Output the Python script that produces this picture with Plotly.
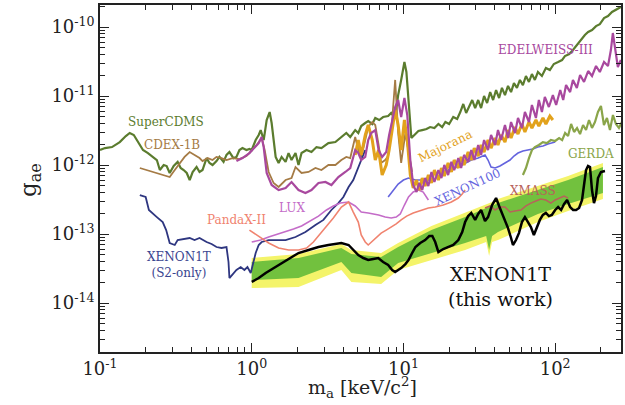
import plotly.graph_objects as go

# ---------------- data (mass in keV, g_ae) ----------------
SUPERCDMS = [(0.100,1.65e-12),(0.108,1.76e-12),(0.120,1.82e-12),(0.135,2.15e-12),(0.148,2.63e-12),(0.157,2.91e-12),(0.167,2.72e-12),(0.178,2.15e-12),(0.192,1.65e-12),(0.207,1.49e-12),(0.223,1.31e-12),(0.237,1.18e-12),(0.248,8.46e-13),(0.263,1.0e-12),(0.275,9.67e-13),(0.288,7.66e-13),(0.306,9.67e-13),(0.325,1.11e-12),(0.340,9.05e-13),(0.356,8.46e-13),(0.373,7.66e-13),(0.390,6.06e-13),(0.408,7.92e-13),(0.433,9.35e-13),(0.453,7.92e-13),(0.474,8.46e-13),(0.504,1.26e-12),(0.527,1.07e-12),(0.552,1.0e-12),(0.586,1.14e-12),(0.613,1.31e-12),(0.652,1.11e-12),(0.682,1.40e-12),(0.713,1.54e-12),(0.758,1.26e-12),(0.793,1.31e-12),(0.830,1.65e-12),(0.869,1.76e-12),(0.923,1.65e-12),(0.966,1.71e-12),(1.00,1.65e-12),(1.062,2.30e-12),(1.112,2.72e-12),(1.146,3.21e-12),(1.199,2.30e-12),(1.255,4.49e-12),(1.313,5.86e-12),(1.353,4.06e-12),(1.438,1.31e-12),(1.504,1.07e-12),(1.574,1.31e-12),(1.672,1.11e-12),(1.749,1.49e-12),(1.830,1.18e-12),(1.944,1.49e-12),(2.034,1.0e-12),(2.13,1.49e-12),(2.297,1.65e-12),(2.477,1.54e-12),(2.672,1.82e-12),(2.881,1.76e-12),(3.202,2.08e-12),(3.56,2.15e-12),(3.897,2.55e-12),(4.203,2.91e-12),(4.46,2.55e-12),(4.81,3.21e-12),(5.04,2.91e-12),(5.27,3.67e-12),(5.60,4.06e-12),(5.86,4.34e-12),(6.23,3.93e-12),(6.52,4.80e-12),(6.92,4.49e-12),(7.35,4.96e-12),(7.93,5.13e-12),(8.30,5.67e-12),(8.82,4.80e-12),(9.23,1.03e-11),(9.66,1.71e-11),(10.15,3.11e-11),(10.46,2.23e-11),(10.79,8.75e-12),(11.28,2.46e-12),(11.99,2.81e-12),(12.55,3.11e-12),(13.3,3.21e-12),(14.2,3.32e-12),(15.0,3.55e-12),(16.0,3.44e-12),(17.0,3.93e-12),(18.0,3.55e-12),(18.9,4.20e-12),(20.0,3.93e-12),(21.3,4.96e-12),(22.6,4.64e-12),(23.7,5.86e-12),(24.8,7.66e-12),(25.9,5.67e-12),(27.1,7.16e-12),(28.4,8.75e-12),(29.7,6.70e-12),(31.1,8.75e-12),(32.5,6.70e-12),(34.0,1.0e-11),(35.6,7.92e-12),(37.3,1.14e-11),(39.0,8.75e-12),(40.8,1.22e-11),(42.7,9.35e-12),(44.6,1.31e-11),(46.7,1.03e-11),(48.9,1.40e-11),(51.2,1.14e-11),(53.5,1.54e-11),(56.0,1.31e-11),(58.6,1.71e-11),(61.3,1.44e-11),(64.2,1.95e-11),(67.2,1.60e-11),(70.3,2.08e-11),(73.5,1.71e-11),(77.0,2.23e-11),(81.8,1.95e-11),(86.9,2.55e-11),(92.3,2.38e-11),(98.0,2.91e-11),(104.6,3.11e-11),(111,3.32e-11),(116,3.80e-11),(124,4.06e-11),(131,4.64e-11),(139,5.48e-11),(148,6.48e-11),(157,7.66e-11),(165,8.46e-11),(175,9.05e-11),(186,1.03e-10),(197,1.10e-10),(210,1.35e-10),(223,1.44e-10),(237,1.65e-10),(252,1.76e-10),(271,1.95e-10)]

CDEX_1B = [(0.183,9.05e-13),(0.213,8.18e-13),(0.248,7.40e-13),(0.288,6.70e-13),(0.311,8.46e-13),(0.335,1.07e-12),(0.361,1.31e-12),(0.390,1.54e-12),(0.420,1.40e-12),(0.453,1.26e-12),(0.474,1.14e-12),(0.512,1.26e-12),(0.552,1.18e-12),(0.586,1.31e-12),(0.632,1.26e-12),(0.682,1.18e-12),(0.747,1.26e-12),(0.830,1.22e-12),(0.923,1.35e-12),(1.0,1.65e-12),(1.079,1.95e-12),(1.163,2.46e-12),(1.217,1.65e-12),(1.293,7.92e-13),(1.394,5.48e-13),(1.504,4.80e-13),(1.672,6.06e-13),(1.830,6.48e-13),(1.944,9.35e-13),(2.13,7.66e-13),(2.368,7.92e-13),(2.63,9.05e-13),(2.881,8.46e-13),(3.202,1.0e-12),(3.56,1.0e-12),(3.897,1.18e-12),(4.203,1.31e-12),(4.46,1.26e-12),(4.81,2.55e-12),(5.04,1.65e-12),(5.27,1.31e-12),(5.60,2.30e-12),(5.86,3.55e-12),(6.23,4.20e-12),(6.52,3.80e-12),(6.86,1.95e-12),(7.13,1.07e-12),(7.58,1.18e-12),(7.93,1.35e-12),(8.43,4.49e-12),(8.82,1.71e-11),(9.23,2.91e-12),(9.66,1.07e-12),(10.3,2.91e-12),(10.8,1.65e-12),(11.4,7.92e-13)]

EDELWEISS_III = [(0.793,1.14e-12),(0.869,1.26e-12),(0.966,1.49e-12),(1.031,1.76e-12),(1.112,2.08e-12),(1.163,2.55e-12),(1.199,1.82e-12),(1.255,7.66e-13),(1.353,5.13e-13),(1.504,4.34e-13),(1.672,4.64e-13),(1.830,5.67e-13),(2.034,4.34e-13),(2.26,3.93e-13),(2.477,4.34e-13),(2.754,5.48e-13),(3.06,5.67e-13),(3.351,5.13e-13),(3.725,6.70e-13),(4.14,7.92e-13),(4.46,9.05e-13),(4.81,1.65e-12),(5.04,1.49e-12),(5.27,1.18e-12),(5.60,1.31e-12),(5.86,2.30e-12),(6.13,2.91e-12),(6.52,3.21e-12),(6.86,1.65e-12),(7.24,1.31e-12),(7.70,1.54e-12),(8.05,2.72e-12),(8.43,4.49e-12),(8.82,6.93e-12),(9.23,8.75e-12),(9.66,4.96e-12),(10.15,9.35e-12),(10.6,5.30e-12),(11.1,1.18e-12),(11.6,5.13e-13),(12.2,4.06e-13),(12.7,5.48e-13),(13.3,4.34e-13),(13.9,6.48e-13),(14.6,4.96e-13),(15.3,7.92e-13),(16.0,5.67e-13),(17.0,8.46e-13),(17.8,6.48e-13),(18.6,1.0e-12),(19.7,7.16e-13),(20.7,1.11e-12),(21.6,8.46e-13),(23.0,1.26e-12),(24.0,9.05e-13),(25.1,1.40e-12),(26.7,1.11e-12),(28.0,1.65e-12),(29.3,1.18e-12),(31.1,1.95e-12),(32.5,1.40e-12),(34.0,2.30e-12),(36.1,1.65e-12),(37.8,2.72e-12),(40.2,1.95e-12),(42.0,3.21e-12),(44.0,2.30e-12),(46.7,3.80e-12),(48.9,2.46e-12),(51.2,4.20e-12),(54.4,2.91e-12),(56.9,4.80e-12),(60.4,3.44e-12),(63.2,5.86e-12),(67.2,4.20e-12),(70.3,7.40e-12),(74.7,4.80e-12),(78.1,8.75e-12),(81.8,5.86e-12),(85.5,9.67e-12),(90.9,6.93e-12),(96.6,1.03e-11),(101.5,7.40e-12),(108,1.22e-11),(113,8.75e-12),(118,1.44e-11),(125.5,1.14e-11),(131,1.71e-11),(139,1.31e-11),(146,2.02e-11),(155,1.60e-11),(165,2.30e-11),(175,1.95e-11),(186,2.72e-11),(197,2.23e-11),(210,3.11e-11),(223,2.72e-11),(233,4.64e-11),(240,8.18e-11),(248,4.64e-11),(259,2.63e-11),(271,3.32e-11)]

MAJORANA = [(4.81,1.40e-12),(5.04,2.30e-12),(5.27,1.40e-12),(5.60,2.72e-12),(5.86,3.80e-12),(6.23,2.30e-12),(6.52,1.18e-12),(6.86,1.65e-12),(7.24,7.16e-13),(7.70,1.0e-12),(8.05,1.65e-12),(8.43,3.21e-12),(8.82,6.27e-12),(9.23,3.80e-12),(9.66,1.65e-12),(10.15,4.49e-12),(10.6,2.30e-12),(11.1,7.16e-13),(11.6,4.64e-13),(12.2,6.06e-13),(12.7,4.34e-13),(13.3,6.48e-13),(13.9,4.96e-13),(14.6,7.16e-13),(15.3,5.48e-13),(16.0,8.46e-13),(17.0,6.06e-13),(17.8,9.05e-13),(18.6,6.93e-13),(19.7,1.07e-12),(20.7,7.92e-13),(21.6,1.18e-12),(23.0,9.05e-13),(24.0,1.31e-12),(25.1,1.0e-12),(26.7,1.54e-12),(28.0,1.18e-12),(29.3,1.76e-12),(31.1,1.35e-12),(32.5,1.95e-12),(34.0,1.54e-12),(36.1,2.30e-12),(37.8,1.76e-12),(40.2,2.46e-12),(42.0,1.95e-12),(44.0,2.72e-12),(46.7,2.15e-12),(48.9,3.21e-12),(51.2,2.46e-12),(54.4,3.55e-12),(56.9,2.81e-12),(60.4,3.93e-12),(63.2,3.01e-12),(67.2,4.20e-12),(70.3,3.44e-12),(74.7,4.49e-12),(78.1,3.67e-12),(83.1,4.80e-12),(86.9,3.93e-12),(92.3,5.13e-12),(96.6,4.49e-12)]

XENON100 = [(7.93,3.44e-13),(8.56,4.34e-13),(9.23,5.30e-13),(10.0,6.06e-13),(10.8,6.48e-13),(12.0,6.06e-13),(13.1,6.06e-13),(14.2,5.67e-13),(15.3,6.93e-13),(16.2,7.66e-13),(17.8,7.92e-13),(19.7,8.46e-13),(21.3,9.05e-13),(23.0,9.35e-13),(25.5,1.07e-12),(28.0,1.18e-12),(31.1,1.26e-12),(34.5,1.40e-12),(36.1,1.18e-12),(37.8,9.35e-13),(40.2,9.05e-13),(43.3,9.67e-13),(46.7,1.07e-12),(50.4,1.18e-12),(53.5,1.35e-12),(56.9,1.49e-12),(61.3,1.60e-12),(66.0,1.65e-12),(71.2,1.71e-12),(77.0,1.82e-12),(83.1,1.89e-12),(89.7,2.02e-12),(100,2.15e-12)]

LUX = [(1.0,7.66e-14),(1.146,8.18e-14),(1.293,9.05e-14),(1.504,1.0e-13),(1.672,1.07e-13),(1.886,1.18e-13),(2.13,1.31e-13),(2.44,1.54e-13),(2.754,1.82e-13),(3.11,2.23e-13),(3.45,2.55e-13),(3.84,2.81e-13),(4.35,2.91e-13),(4.81,2.55e-13),(5.27,2.08e-13),(5.86,2.02e-13),(6.86,1.89e-13),(7.58,1.76e-13),(8.30,1.71e-13),(8.96,1.76e-13),(9.53,1.95e-13),(10.15,2.63e-13),(10.8,3.44e-13),(11.6,4.06e-13),(12.55,4.34e-13),(13.5,4.06e-13),(14.6,3.11e-13)]

PANDAX_II = [(0.966,1.14e-13),(1.062,1.0e-13),(1.163,8.75e-14),(1.293,7.40e-14),(1.504,6.27e-14),(1.75,5.86e-14),(2.034,5.86e-14),(2.30,6.27e-14),(2.55,7.66e-14),(2.97,1.14e-13),(3.45,1.71e-13),(3.90,2.46e-13),(4.35,2.91e-13),(4.67,2.08e-13),(5.04,1.49e-13),(5.27,9.67e-14),(5.60,7.66e-14),(5.86,6.93e-14),(6.23,7.92e-14),(6.62,9.05e-14),(7.13,1.03e-13),(7.70,1.14e-13),(8.30,1.26e-13),(8.96,1.40e-13),(9.66,1.60e-13),(10.5,1.82e-13),(11.6,2.02e-13),(13.1,2.23e-13),(14.6,2.38e-13),(16.2,2.46e-13),(18.3,2.63e-13),(20.7,2.91e-13),(23.0,3.32e-13),(24.4,3.80e-13),(25.5,4.34e-13)]

XENON1T_S2 = [(0.183,3.67e-13),(0.200,3.44e-13),(0.210,2.23e-13),(0.223,1.95e-13),(0.237,1.76e-13),(0.259,1.49e-13),(0.273,1.14e-13),(0.288,7.40e-14),(0.311,6.93e-14),(0.325,8.18e-14),(0.361,8.46e-14),(0.390,8.75e-14),(0.420,8.18e-14),(0.453,8.75e-14),(0.504,7.66e-14),(0.544,7.16e-14),(0.586,6.48e-14),(0.632,6.27e-14),(0.682,6.48e-14),(0.703,3.93e-14),(0.713,2.30e-14),(0.747,2.55e-14),(0.793,3.01e-14),(0.846,3.32e-14),(0.895,3.01e-14),(0.937,3.32e-14),(0.985,2.72e-14),(1.015,3.55e-14),(1.062,5.30e-14),(1.112,6.93e-14),(1.163,7.66e-14),(1.293,8.18e-14),(1.504,8.18e-14),(1.672,8.18e-14),(1.944,9.05e-14),(2.26,1.07e-13),(2.63,1.35e-13),(2.97,1.60e-13),(3.35,2.23e-13),(3.725,2.81e-13),(4.02,3.44e-13),(4.35,4.80e-13),(4.67,6.06e-13),(5.04,9.35e-13),(5.36,1.26e-12),(5.60,1.65e-12)]

XENON1T_THIS_WORK = [(1.0,2.02e-14),(1.112,2.30e-14),(1.236,2.72e-14),(1.394,3.21e-14),(1.574,3.80e-14),(1.806,4.49e-14),(2.034,5.30e-14),(2.37,5.86e-14),(2.754,6.48e-14),(3.202,6.93e-14),(3.897,7.40e-14),(4.35,6.93e-14),(4.67,5.86e-14),(5.04,4.96e-14),(5.44,4.49e-14),(5.86,4.20e-14),(6.33,4.34e-14),(6.82,4.49e-14),(7.35,3.93e-14),(7.93,3.55e-14),(8.43,3.01e-14),(8.82,2.81e-14),(9.23,3.01e-14),(9.66,3.21e-14),(10.3,3.67e-14),(10.8,4.20e-14),(11.5,5.48e-14),(12.0,6.48e-14),(12.9,7.40e-14),(13.9,8.18e-14),(14.8,9.35e-14),(15.5,9.35e-14),(16.2,7.66e-14),(17.0,5.48e-14),(18.3,6.06e-14),(19.7,6.48e-14),(21.3,6.93e-14),(23.0,8.18e-14),(24.4,1.07e-13),(25.5,1.49e-13),(26.7,1.82e-13),(28.0,2.02e-13),(29.7,1.60e-13),(31.1,1.95e-13),(32.5,2.23e-13),(34.5,1.54e-13),(36.1,1.76e-13),(38.4,2.63e-13),(40.8,3.32e-13),(42.7,2.55e-13),(44.6,2.02e-13),(46.7,1.60e-13),(48.9,1.22e-13),(51.2,8.75e-14),(52.7,6.93e-14),(55.2,8.18e-14),(57.7,1.03e-13),(60.4,1.49e-13),(63.2,1.76e-13),(66.2,1.49e-13),(69.2,1.26e-13),(72.4,9.67e-14),(75.8,1.26e-13),(79.3,1.60e-13),(83.0,1.89e-13),(86.9,2.02e-13),(90.9,1.82e-13),(95.1,1.89e-13),(100,2.23e-13),(104.6,2.46e-13),(109.5,2.23e-13),(114.6,2.72e-13),(119.9,3.11e-13),(125.5,2.46e-13),(131.3,2.23e-13),(137.4,2.23e-13),(143.8,2.38e-13),(150.4,3.11e-13),(155,5.13e-13),(159.8,8.46e-13),(164.7,9.67e-13),(169.7,9.35e-13),(174.9,4.34e-13),(180.3,2.81e-13),(185.8,3.55e-13),(191.5,6.48e-13),(200.4,7.92e-13),(213,8.18e-13)]

BAND_M    = [1.0, 2.034, 3.897, 4.54, 7.13, 9.23, 15.3, 25.5, 35.1, 36.7, 38.4, 42.0, 77.0, 121.7, 206.5]
GREEN_HI  = [3.93e-14, 4.49e-14, 6.27e-14, 5.13e-14, 4.64e-14, 6.48e-14, 1.14e-13, 1.76e-13, 2.38e-13, 2.46e-13, 2.55e-13, 2.81e-13, 4.34e-13, 6.06e-13, 9.35e-13]
GREEN_LO  = [2.15e-14, 2.30e-14, 3.93e-14, 2.72e-14, 2.38e-14, 3.80e-14, 5.30e-14, 7.40e-14, 9.35e-14, 5.86e-14, 9.35e-14, 1.07e-13, 1.95e-13, 2.72e-13, 3.93e-13]
YELLOW_HI = [4.49e-14, 5.13e-14, 7.16e-14, 5.86e-14, 5.30e-14, 7.40e-14, 1.31e-13, 2.02e-13, 2.72e-13, 2.81e-13, 2.91e-13, 3.21e-13, 4.96e-13, 6.93e-13, 1.07e-12]
YELLOW_LO = [1.65e-14, 1.71e-14, 3.01e-14, 2.02e-14, 1.89e-14, 3.01e-14, 4.20e-14, 5.86e-14, 7.66e-14, 4.80e-14, 7.66e-14, 8.18e-14, 1.49e-13, 2.15e-13, 3.21e-13]

GERDA = [(61.3,7.16e-13),(64.2,9.05e-13),(67.2,1.26e-12),(70.3,1.65e-12),(73.5,1.82e-12),(78.1,1.95e-12),(83.0,2.15e-12),(88.2,2.08e-12),(93.7,2.30e-12),(100,2.23e-12),(106.2,2.46e-12),(111.2,2.30e-12),(116.3,2.91e-12),(121.7,2.63e-12),(127.4,3.93e-12),(133.3,3.01e-12),(139.4,3.44e-12),(145.9,2.81e-12),(152.7,3.80e-12),(159.8,3.21e-12),(167.2,4.49e-12),(174.9,3.44e-12),(183.0,4.20e-12),(191.5,5.86e-12),(200.4,7.16e-12),(209.7,3.80e-12),(219.5,4.80e-12),(229.7,3.21e-12),(240.4,5.30e-12),(251.6,3.93e-12),(263.3,3.44e-12),(275.4,4.20e-12)]

XMASS = [(34.5,2.38e-13),(37.3,2.55e-13),(40.2,2.23e-13),(43.3,2.46e-13),(46.7,2.46e-13),(50.4,2.08e-13),(54.4,2.15e-13),(59.5,2.23e-13),(64.2,2.55e-13),(69.2,2.81e-13),(74.7,3.01e-13),(80.5,3.21e-13),(86.9,3.11e-13),(93.7,2.81e-13),(100,3.11e-13),(106.2,3.32e-13),(114.6,3.55e-13),(121.7,3.32e-13)]

X_TICKS = [0.1, 1, 10, 100]
X_TICKTEXT = ["10<sup>-1</sup>", "10<sup>0</sup>", "10<sup>1</sup>", "10<sup>2</sup>"]
Y_TICKS = [1e-14, 1e-13, 1e-12, 1e-11, 1e-10]
Y_TICKTEXT = ["10<sup>-14</sup>", "10<sup>-13</sup>", "10<sup>-12</sup>", "10<sup>-11</sup>", "10<sup>-10</sup>"]

# ---------------- figure ----------------
FONT = "DejaVu Serif"

def unzip(pairs):
    return [p[0] for p in pairs], [p[1] for p in pairs]

fig = go.Figure()

# 2-sigma and 1-sigma bands
fig.add_trace(go.Scatter(x=BAND_M + BAND_M[::-1], y=YELLOW_HI + YELLOW_LO[::-1],
                         fill="toself", fillcolor="#f4f46a", line=dict(width=0),
                         mode="lines", hoverinfo="skip", showlegend=False))
fig.add_trace(go.Scatter(x=BAND_M + BAND_M[::-1], y=GREEN_HI + GREEN_LO[::-1],
                         fill="toself", fillcolor="#72c13e", line=dict(width=0),
                         mode="lines", hoverinfo="skip", showlegend=False))

curves = [
    (SUPERCDMS, "#5b7c2e", 2.2),
    (CDEX_1B, "#a57b45", 1.8),
    (XENON1T_S2, "#2e3680", 1.8),
    (LUX, "#c46cc8", 1.6),
    (PANDAX_II, "#f0836f", 1.6),
    (XENON100, "#6464de", 1.6),
    (XMASS, "#b8625a", 1.5),
    (GERDA, "#8aa54a", 2.2),
    (MAJORANA, "#e2a21c", 3.0),
    (EDELWEISS_III, "#a8489e", 2.2),
    (XENON1T_THIS_WORK, "#000000", 2.5),
]
for pairs, color, w in curves:
    mx, gy = unzip(pairs)
    fig.add_trace(go.Scatter(x=mx, y=gy, mode="lines", line=dict(color=color, width=w),
                             hoverinfo="skip", showlegend=False))

x_minor = [k * 10.0 ** e for e in range(-1, 3) for k in range(2, 10)]
y_minor = [k * 10.0 ** e for e in range(-15, -9) for k in range(2, 10)]

axis_common = dict(type="log", showgrid=False, zeroline=False, showline=True,
                   linecolor="#222", linewidth=1.6, mirror="ticks", ticks="inside",
                   ticklen=9, tickwidth=1.4, tickcolor="#222",
                   tickfont=dict(family=FONT, size=18, color="#222"))

fig.update_layout(
    width=625, height=405,
    margin=dict(l=100, r=2, t=5, b=53),
    paper_bgcolor="white", plot_bgcolor="white",
    showlegend=False,
    xaxis=dict(axis_common, range=[-1, 2.434], tickmode="array", tickvals=X_TICKS, ticktext=X_TICKTEXT,
               minor=dict(tickmode="array", tickvals=x_minor, ticks="inside", ticklen=5,
                          tickwidth=1.0, tickcolor="#222", showgrid=False)),
    yaxis=dict(axis_common, range=[-14.71, -9.681], tickmode="array", tickvals=Y_TICKS, ticktext=Y_TICKTEXT,
               minor=dict(tickmode="array", tickvals=y_minor, ticks="inside", ticklen=5,
                          tickwidth=1.0, tickcolor="#222", showgrid=False)),
)

labels = [
    ("SuperCDMS", 0.126, 0.663, "#5b7c2e", 12, 0),
    ("CDEX-1B", 0.138, 0.597, "#a57b45", 12, 0),
    ("EDELWEISS-III", 0.855, 0.870, "#a8489e", 12, 0),
    ("Majorana", 0.663, 0.594, "#e2a21c", 12, -26),
    ("GERDA", 0.943, 0.571, "#8aa54a", 12, 0),
    ("XMASS", 0.832, 0.464, "#b8625a", 12, 0),
    ("XENON100", 0.706, 0.476, "#6464de", 12, -25),
    ("LUX", 0.369, 0.415, "#c46cc8", 12, 0),
    ("PandaX-II", 0.262, 0.380, "#f0836f", 12, 0),
    ("XENON1T<br>(S2-only)", 0.151, 0.251, "#3a4590", 12, 0),
    ("XENON1T<br>(this work)", 0.769, 0.190, "#111111", 19, 0),
]
for text, x, y, color, size, ang in labels:
    fig.add_annotation(text=text, x=x, y=y, xref="paper", yref="paper", showarrow=False,
                       xanchor="center", yanchor="middle", textangle=ang,
                       font=dict(family=FONT, size=size, color=color))

fig.add_annotation(text="g<sub>ae</sub>", x=-0.134, y=0.496, xref="paper", yref="paper",
                   showarrow=False, textangle=-90, xanchor="center", yanchor="middle",
                   font=dict(family=FONT, size=23, color="#222"))
fig.add_annotation(text="m<sub>a</sub> [keV/c<sup>2</sup>]", x=0.503, y=-0.148, xref="paper", yref="paper",
                   showarrow=False, xanchor="center", yanchor="bottom",
                   font=dict(family=FONT, size=19, color="#222"))

fig.write_html("out.html")
